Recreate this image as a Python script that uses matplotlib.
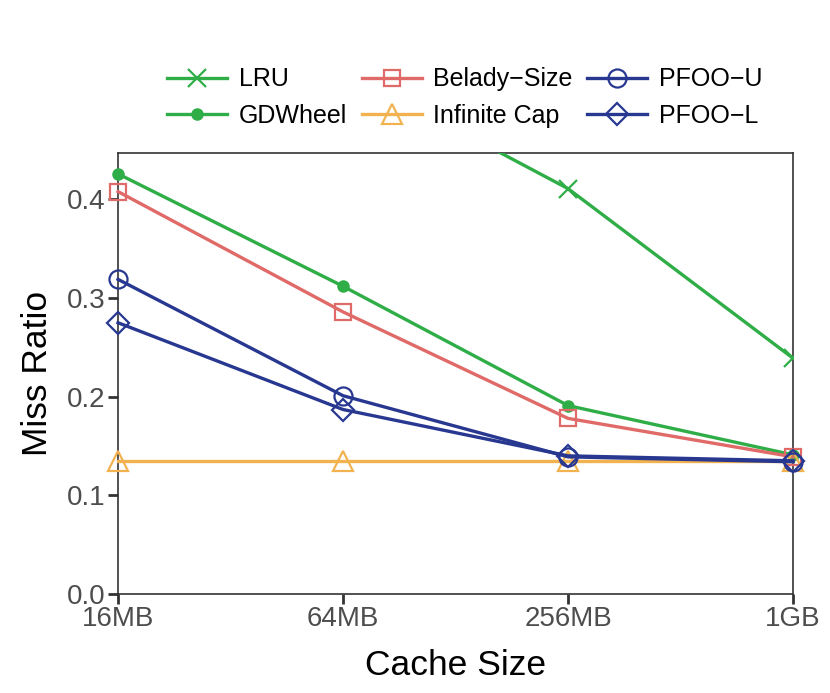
import matplotlib
matplotlib.use("Agg")
import matplotlib.pyplot as plt

plt.rcParams['font.family'] = ['Liberation Sans', 'DejaVu Sans']

sizes = ["16MB", "64MB", "256MB", "1GB"]
lru = [0.62, 0.532, 0.411, 0.239]
gdwheel = [0.426, 0.312, 0.191, 0.141]
belady = [0.408, 0.286, 0.178, 0.139]
infinite = [0.135, 0.135, 0.135, 0.135]
pfoo_u = [0.319, 0.201, 0.139, 0.134]
pfoo_l = [0.275, 0.187, 0.140, 0.135]

green = "#2fae48"
red = "#e06a68"
orange = "#f2b24f"
navy = "#283891"

fig = plt.figure(figsize=(8.3, 6.93), dpi=100)
ax = fig.add_axes([0.1422, 0.143, 0.8133, 0.636])
x = list(range(len(sizes)))
lw = 2.4
ax.plot(x, lru, color=green, lw=lw, marker='x', ms=13, mew=1.6, label="LRU", zorder=3)
ax.plot(x, gdwheel, color=green, lw=lw, marker='o', ms=8, label="GDWheel", clip_on=False, zorder=3)
ax.plot(x, belady, color=red, lw=lw, marker='s', ms=12, mfc='none', mew=1.6, label="Belady\u2212Size", clip_on=False, zorder=3)
ax.plot(x, infinite, color=orange, lw=lw, marker='^', ms=14, mfc='none', mew=1.6, label="Infinite Cap", clip_on=False, zorder=3)
ax.plot(x, pfoo_u, color=navy, lw=lw, marker='o', ms=13, mfc='none', mew=1.6, label="PFOO\u2212U", clip_on=False, zorder=3)
ax.plot(x, pfoo_l, color=navy, lw=lw, marker='D', ms=11, mfc='none', mew=1.6, label="PFOO\u2212L", clip_on=False, zorder=3)

ax.set_xlim(0, 3)
ax.set_ylim(0, 0.447)
ax.set_xticks(x)
ax.set_xticklabels(sizes)
ax.set_yticks([0.0, 0.1, 0.2, 0.3, 0.4])
ax.set_yticklabels(["0.0", "0.1", "0.2", "0.3", "0.4"])
ax.tick_params(axis='both', direction='out', length=7, width=2, color='#333333',
               labelsize=20, labelcolor='#4d4d4d', pad=2)
for s in ax.spines.values():
    s.set_color('#333333')
    s.set_linewidth(1.2)
ax.set_xlabel("Cache Size", fontsize=25.5, labelpad=12)
ax.set_ylabel("Miss Ratio", fontsize=25.5, labelpad=9)

leg = fig.legend(loc='center', bbox_to_anchor=(0.560, 0.859), ncol=3, frameon=False,
                 fontsize=18, handlelength=2.4, columnspacing=0.6, handletextpad=0.45,
                 labelspacing=0.5)

fig.savefig("out.png", dpi=100)
